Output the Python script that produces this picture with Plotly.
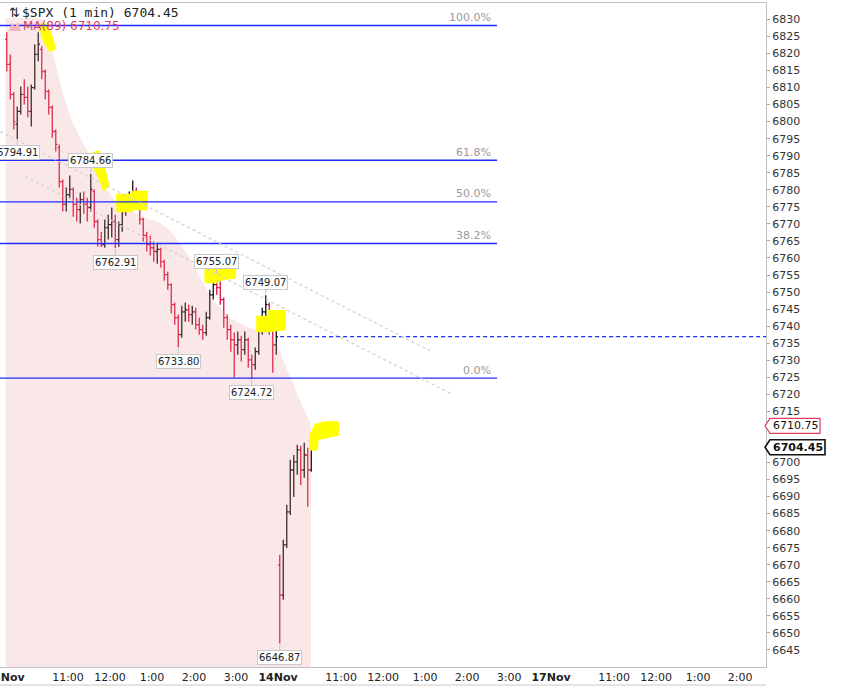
import pandas as pd
import plotly.graph_objects as go

# ---------------- data ----------------
sessions = ["2025-11-13", "2025-11-14", "2025-11-17"]
bar_minutes = 5

# 13 Nov, 5-minute bars from 09:30
open_13 = [6824.1, 6816.8, 6808.0, 6799.2, 6803.0, 6808.0, 6807.1, 6803.0, 6810.0, 6819.7,
           6821.2, 6814.7, 6808.9, 6804.2, 6797.1, 6792.4, 6782.4, 6775.7, 6778.6, 6780.1,
           6775.7, 6774.2, 6777.1, 6775.7, 6774.8, 6779.5, 6770.7, 6765.4, 6763.9, 6768.9,
           6769.8, 6770.7, 6765.4, 6769.8, 6773.6, 6776.3, 6777.7, 6779.5, 6775.7, 6771.3,
           6766.6, 6763.9, 6763.0, 6761.9, 6762.5, 6758.9, 6755.1, 6752.2, 6746.3, 6742.5,
           6737.5, 6744.2, 6744.8, 6743.4, 6744.2, 6740.4, 6739.0, 6738.1, 6742.5, 6749.2,
           6752.2, 6751.3, 6747.8, 6742.5, 6739.0, 6736.0, 6734.5, 6736.0, 6733.1, 6736.0,
           6730.1, 6728.7, 6732.5, 6738.4, 6744.2, 6746.3, 6741.3, 6734.5]
high_13 = [6826.2, 6819.7, 6808.6, 6804.4, 6810.3, 6812.4, 6810.3, 6810.9, 6822.7, 6826.2,
           6822.1, 6815.3, 6809.4, 6804.7, 6797.7, 6793.3, 6783.0, 6780.7, 6784.2, 6780.7,
           6777.7, 6779.2, 6779.5, 6777.7, 6784.66, 6780.1, 6771.3, 6767.7, 6771.3, 6772.7,
           6774.8, 6772.7, 6770.7, 6774.8, 6777.7, 6779.5, 6782.7, 6780.7, 6777.1, 6771.8,
           6767.7, 6766.6, 6764.8, 6764.5, 6763.0, 6759.5, 6756.0, 6752.5, 6746.9, 6743.4,
           6746.0, 6746.9, 6746.3, 6746.0, 6745.4, 6742.5, 6740.4, 6744.2, 6750.7, 6753.6,
           6755.07, 6753.1, 6748.4, 6743.4, 6740.4, 6738.1, 6738.4, 6737.2, 6738.4, 6736.6,
           6731.6, 6733.7, 6739.5, 6745.4, 6749.07, 6746.9, 6742.5, 6739.0]
low_13 = [6814.7, 6806.5, 6797.7, 6794.91, 6802.1, 6805.0, 6801.2, 6798.6, 6809.4, 6817.7,
          6812.4, 6806.5, 6802.1, 6795.3, 6791.2, 6780.7, 6773.6, 6773.6, 6777.7, 6772.1,
          6770.7, 6770.1, 6773.0, 6770.7, 6773.6, 6768.9, 6763.3, 6763.2, 6763.0, 6765.4,
          6766.0, 6762.91, 6763.3, 6767.7, 6772.4, 6773.6, 6776.5, 6774.2, 6769.8, 6764.8,
          6761.9, 6760.7, 6758.9, 6758.3, 6757.2, 6753.3, 6750.7, 6743.7, 6740.4, 6733.80,
          6736.6, 6741.3, 6741.3, 6740.4, 6739.0, 6737.5, 6736.0, 6737.2, 6741.9, 6747.8,
          6749.2, 6746.3, 6739.5, 6736.0, 6732.5, 6724.9, 6731.6, 6729.6, 6731.6, 6727.8,
          6724.72, 6727.2, 6731.6, 6737.5, 6742.5, 6737.5, 6726.3, 6731.6]
close_13 = [6816.8, 6808.0, 6800.0, 6803.0, 6808.0, 6807.1, 6803.0, 6810.0, 6819.7, 6822.7,
            6814.7, 6808.9, 6804.2, 6797.1, 6793.3, 6782.4, 6775.7, 6778.6, 6780.1, 6775.7,
            6774.2, 6777.1, 6775.7, 6774.8, 6780.1, 6770.7, 6765.4, 6763.9, 6768.9, 6769.8,
            6770.7, 6765.4, 6769.8, 6773.6, 6776.3, 6777.7, 6779.5, 6775.7, 6771.3, 6766.6,
            6763.9, 6763.0, 6761.9, 6762.5, 6758.9, 6755.1, 6752.2, 6746.3, 6742.5, 6737.5,
            6744.2, 6744.8, 6743.4, 6744.2, 6740.4, 6739.0, 6738.1, 6742.5, 6749.2, 6752.2,
            6751.3, 6747.8, 6742.5, 6739.0, 6736.0, 6734.5, 6736.0, 6733.1, 6736.0, 6730.1,
            6728.7, 6732.5, 6738.4, 6744.2, 6746.3, 6741.3, 6734.5, 6736.9]

# 14 Nov, 5-minute bars from 09:30
open_14 = [6669.9, 6661.1, 6675.8, 6685.5, 6697.8, 6700.2, 6703.7, 6697.8, 6702.2, 6697.8]
high_14 = [6672.9, 6677.3, 6687.6, 6700.8, 6702.2, 6705.2, 6704.9, 6705.8, 6704.3, 6708.7]
low_14 = [6646.87, 6659.7, 6674.9, 6684.6, 6689.9, 6696.4, 6693.4, 6695.5, 6687.0, 6697.3]
close_14 = [6661.1, 6675.8, 6685.5, 6697.8, 6700.2, 6703.7, 6697.8, 6702.2, 6697.8, 6704.45]

# MA(89)
ma_times = ["2025-11-13 09:31", "2025-11-13 10:10", "2025-11-13 10:24", "2025-11-13 10:38",
            "2025-11-13 10:52", "2025-11-13 11:06", "2025-11-13 11:21", "2025-11-13 11:35",
            "2025-11-13 11:49", "2025-11-13 12:09", "2025-11-13 12:46", "2025-11-13 13:11",
            "2025-11-13 13:29", "2025-11-13 13:49", "2025-11-13 14:08", "2025-11-13 14:26",
            "2025-11-13 14:55", "2025-11-13 15:15", "2025-11-13 15:44", "2025-11-13 15:59",
            "2025-11-14 09:33", "2025-11-14 09:47", "2025-11-14 10:01", "2025-11-14 10:16",
            "2025-11-14 10:17"]
ma_values = [6830.3, 6830.4, 6830.0, 6820.3, 6808.6, 6800.0, 6793.9, 6788.9,
             6782.1, 6776.3, 6772.1, 6770.4, 6767.4, 6761.6, 6754.5, 6747.8,
             6741.9, 6739.8, 6738.1, 6735.1, 6732.2, 6725.2, 6718.4, 6711.6, 6710.75]

# Fibonacci retracement
fib_high = 6828.2
fib_low = 6724.72
fib_ratios = [1.0, 0.618, 0.5, 0.382, 0.0]
fib_end = "2025-11-14 14:43"
prev_close_start = "2025-11-14 09:33"

# dotted trend lines (time, price)
trend_lines = [
    [("2025-11-13 09:59", 6783.9), ("2025-11-14 13:40", 6719.9)],
    [("2025-11-13 09:23", 6797.1), ("2025-11-14 13:07", 6732.8)],
]

# pivot labels: (session, bar index, kind)
pivots = [(0, 3, "low"), (0, 24, "high"), (0, 31, "low"), (0, 49, "low"),
          (0, 60, "high"), (0, 70, "low"), (0, 74, "high"), (1, 0, "low")]

# yellow highlighter strokes (time, price)
highlights = [
    [("2025-11-13 10:19", 6828.2), ("2025-11-13 10:27", 6828.8), ("2025-11-13 10:35", 6826.2),
     ("2025-11-13 10:42", 6821.5), ("2025-11-13 10:34", 6820.6), ("2025-11-13 10:25", 6823.8)],
    [("2025-11-13 11:33", 6790.6), ("2025-11-13 11:43", 6791.4), ("2025-11-13 11:51", 6787.4),
     ("2025-11-13 11:58", 6781.2), ("2025-11-13 11:51", 6779.8), ("2025-11-13 11:44", 6783.6),
     ("2025-11-13 11:35", 6787.2)],
    [("2025-11-13 12:10", 6773.6), ("2025-11-13 12:10", 6778.6), ("2025-11-13 12:31", 6778.6),
     ("2025-11-13 12:31", 6779.5), ("2025-11-13 12:53", 6779.5), ("2025-11-13 12:53", 6774.2),
     ("2025-11-13 12:31", 6774.2), ("2025-11-13 12:31", 6773.6)],
    [("2025-11-13 14:16", 6752.8), ("2025-11-13 14:16", 6757.5), ("2025-11-13 14:59", 6757.5),
     ("2025-11-13 14:59", 6754.2), ("2025-11-13 14:37", 6753.5), ("2025-11-13 14:32", 6752.8)],
    [("2025-11-13 15:30", 6738.4), ("2025-11-13 15:30", 6742.8), ("2025-11-13 15:46", 6742.8),
     ("2025-11-13 15:46", 6744.5), ("2025-11-14 09:40", 6744.5), ("2025-11-14 09:40", 6739.0),
     ("2025-11-13 15:46", 6738.4)],
    [("2025-11-14 10:16", 6703.7), ("2025-11-14 10:16", 6708.1), ("2025-11-14 10:23", 6711.1),
     ("2025-11-14 10:37", 6711.9), ("2025-11-14 10:56", 6711.9), ("2025-11-14 10:56", 6708.1),
     ("2025-11-14 10:27", 6706.7), ("2025-11-14 10:26", 6703.7)],
]

tick_times = ["2025-11-13 09:30", "2025-11-13 11:00", "2025-11-13 12:00", "2025-11-13 13:00",
              "2025-11-13 14:00", "2025-11-13 15:00", "2025-11-14 09:30", "2025-11-14 11:00",
              "2025-11-14 12:00", "2025-11-14 13:00", "2025-11-14 14:00", "2025-11-14 15:00",
              "2025-11-17 09:30", "2025-11-17 11:00", "2025-11-17 12:00", "2025-11-17 13:00",
              "2025-11-17 14:00"]
tick_labels = ["13Nov", "11:00", "12:00", "1:00", "2:00", "3:00",
               "14Nov", "11:00", "12:00", "1:00", "2:00", "3:00",
               "17Nov", "11:00", "12:00", "1:00", "2:00"]

# ---------------- helpers ----------------
def tm(s):
    ts = pd.Timestamp(s)
    d = sessions.index(ts.strftime("%Y-%m-%d"))
    return d * 390 + ts.hour * 60 + ts.minute - 570

X_RANGE = [-7.15, 1087.1]
Y_RANGE = [6640.0, 6834.8]
PW, PH, TOP = 766.0, 664.0, 3.0

def py_paper(v):
    return (v - Y_RANGE[0]) / (Y_RANGE[1] - Y_RANGE[0])

starts = list(pd.date_range(sessions[0] + " 09:30", periods=len(open_13), freq=f"{bar_minutes}min")) + \
         list(pd.date_range(sessions[1] + " 09:30", periods=len(open_14), freq=f"{bar_minutes}min"))
bar_x = [tm(s) + bar_minutes / 2 for s in starts]
opens = open_13 + open_14
highs = high_13 + high_14
lows = low_13 + low_14
closes = close_13 + close_14

FONT = "DejaVu Sans"
fig = go.Figure()

# MA(89) shaded band
fig.add_trace(go.Scatter(x=[tm(t) for t in ma_times], y=ma_values, mode="lines",
                         line=dict(width=0, color="rgba(0,0,0,0)"), fill="tozeroy",
                         fillcolor="rgba(232,150,150,0.22)", hoverinfo="skip", showlegend=False))

# yellow highlights (under the bars)
for poly in highlights:
    xs = [tm(t) for t, _ in poly] + [tm(poly[0][0])]
    ys = [p for _, p in poly] + [poly[0][1]]
    fig.add_trace(go.Scatter(x=xs, y=ys, mode="lines", fill="toself", fillcolor="#ffff00",
                             line=dict(width=1.5, color="#ffff00"), hoverinfo="skip", showlegend=False))

# price bars
fig.add_trace(go.Ohlc(x=bar_x, open=opens, high=highs, low=lows, close=closes,
                      increasing=dict(line=dict(color="#111111", width=1.3)),
                      decreasing=dict(line=dict(color="#e0103c", width=1.3)),
                      tickwidth=0.5, hoverinfo="skip", showlegend=False))

shapes = []
annotations = []

# fib lines + labels
for r in fib_ratios:
    lvl = fib_low + r * (fib_high - fib_low)
    shapes.append(dict(type="line", xref="x", yref="y", x0=X_RANGE[0], x1=tm(fib_end), y0=lvl, y1=lvl,
                       line=dict(color="#1f2bff", width=1.3), layer="above"))
    annotations.append(dict(x=tm(fib_end) - 6, y=lvl, xref="x", yref="y", text=f"{r*100:.1f}%",
                            showarrow=False, xanchor="right", yanchor="middle", yshift=8,
                            font=dict(family=FONT, size=11, color="#9a9a9a")))

# previous close dashed
shapes.append(dict(type="line", xref="x", yref="y", x0=tm(prev_close_start), x1=X_RANGE[1],
                   y0=close_13[-1], y1=close_13[-1],
                   line=dict(color="#1f2bff", width=1.2, dash="4px,3px"), layer="above"))

# dotted trend lines
for (t0, p0), (t1, p1) in trend_lines:
    shapes.append(dict(type="line", xref="x", yref="y", x0=tm(t0), y0=p0, x1=tm(t1), y1=p1,
                       line=dict(color="#cfcfcf", width=1.2, dash="dot"), layer="above"))

# pivot labels
for sess, idx, kind in pivots:
    if sess == 0:
        bx, val = bar_x[idx], (high_13[idx] if kind == "high" else low_13[idx])
    else:
        bx, val = bar_x[len(open_13) + idx], (high_14[idx] if kind == "high" else low_14[idx])
    annotations.append(dict(x=bx, y=val, xref="x", yref="y", text=f"{val:.2f}",
                            showarrow=True, arrowhead=0, arrowwidth=1, arrowcolor="#c4c4c4",
                            ax=0, ay=(-13 if kind == "high" else 14), standoff=1,
                            bgcolor="white", bordercolor="#c8c8c8", borderwidth=1, borderpad=1,
                            font=dict(family=FONT, size=10, color="#222222")))

# right-edge value tags
ma_last = ma_values[-1]
last_close = closes[-1]
for val, txt_w, col, bold in [(ma_last, 50, "#e0405f", False), (last_close, 55, "#111111", True)]:
    yc = py_paper(val)
    h = 7.5 / PH
    xl, xr, tip = 770 / PW, (770 + txt_w) / PW, 765 / PW
    shapes.append(dict(type="path", xref="paper", yref="paper",
                       path=f"M {tip} {yc} L {xl} {yc+h} L {xr} {yc+h} L {xr} {yc-h} L {xl} {yc-h} Z",
                       fillcolor="white", line=dict(color=col, width=1.6 if bold else 1.2), layer="above"))
    annotations.append(dict(x=771 / PW, y=yc, xref="paper", yref="paper",
                            text=(f"<b>{val:.2f}</b>" if bold else f"{val:.2f}"),
                            showarrow=False, xanchor="left", yanchor="middle",
                            font=dict(family=FONT, size=11, color="#111111")))

# legend-like header
def ppx(xp):
    return xp / PW

def ppy(yp):
    return 1 - (yp - TOP) / PH

annotations.append(dict(x=ppx(7), y=ppy(12.5), xref="paper", yref="paper", text="⇅",
                        showarrow=False, xanchor="left", yanchor="middle",
                        font=dict(family=FONT, size=13, color="#222222")))
annotations.append(dict(x=ppx(20), y=ppy(12.5), xref="paper", yref="paper",
                        text=f"$SPX (1 min) {last_close:.2f}",
                        showarrow=False, xanchor="left", yanchor="middle",
                        font=dict(family="DejaVu Sans Mono", size=13, color="#222222")))
shapes.append(dict(type="path", xref="paper", yref="paper",
                   path=f"M {ppx(9)} {ppy(31)} L {ppx(12)} {ppy(23)} L {ppx(15)} {ppy(27)} "
                        f"L {ppx(18)} {ppy(22)} L {ppx(21)} {ppy(31)} Z",
                   fillcolor="#f2b3bf", line=dict(width=0), layer="above"))
annotations.append(dict(x=ppx(21), y=ppy(26.5), xref="paper", yref="paper",
                        text=f"MA(89) {ma_last:.2f}",
                        showarrow=False, xanchor="left", yanchor="middle",
                        font=dict(family=FONT, size=12, color="#e0405f")))

# thin line under axis labels (next panel edge)
shapes.append(dict(type="line", xref="paper", yref="paper", x0=0, x1=1,
                   y0=-(685 - 667) / PH, y1=-(685 - 667) / PH,
                   line=dict(color="#c8c8c8", width=1)))

ticktext = [f"<b>{t}</b>" if "Nov" in t else t for t in tick_labels]
y_ticks = list(range(6645, 6831, 5))
# the two right-edge value tags cover these labels in the reference
covered = {6705, 6710}
y_ticktext = ["" if v in covered else str(v) for v in y_ticks]

fig.update_layout(
    width=862, height=687,
    margin=dict(l=0, r=96, t=3, b=20, autoexpand=False),
    paper_bgcolor="white", plot_bgcolor="white",
    showlegend=False, hovermode=False,
    shapes=shapes, annotations=annotations,
    xaxis=dict(range=X_RANGE, tickmode="array", tickvals=[tm(t) for t in tick_times],
               ticktext=ticktext, showgrid=False, zeroline=False, showline=True,
               linecolor="#c0c0c0", linewidth=1, mirror=True, ticks="",
               ticklabeloverflow="allow", automargin=False,
               tickfont=dict(family=FONT, size=11, color="#222222"), tickangle=0,
               rangeslider=dict(visible=False), fixedrange=True),
    yaxis=dict(range=Y_RANGE, side="right", tickmode="array",
               tickvals=y_ticks, ticktext=y_ticktext, automargin=False,
               showgrid=False, zeroline=False, showline=True, linecolor="#c0c0c0", linewidth=1,
               ticks="outside", ticklen=3, tickcolor="#aaaaaa",
               tickfont=dict(family=FONT, size=11, color="#333333"), fixedrange=True),
)

fig.write_html("out.html", config={"displayModeBar": False},
               post_script="document.body.style.margin='0px';document.body.style.overflow='hidden';")
